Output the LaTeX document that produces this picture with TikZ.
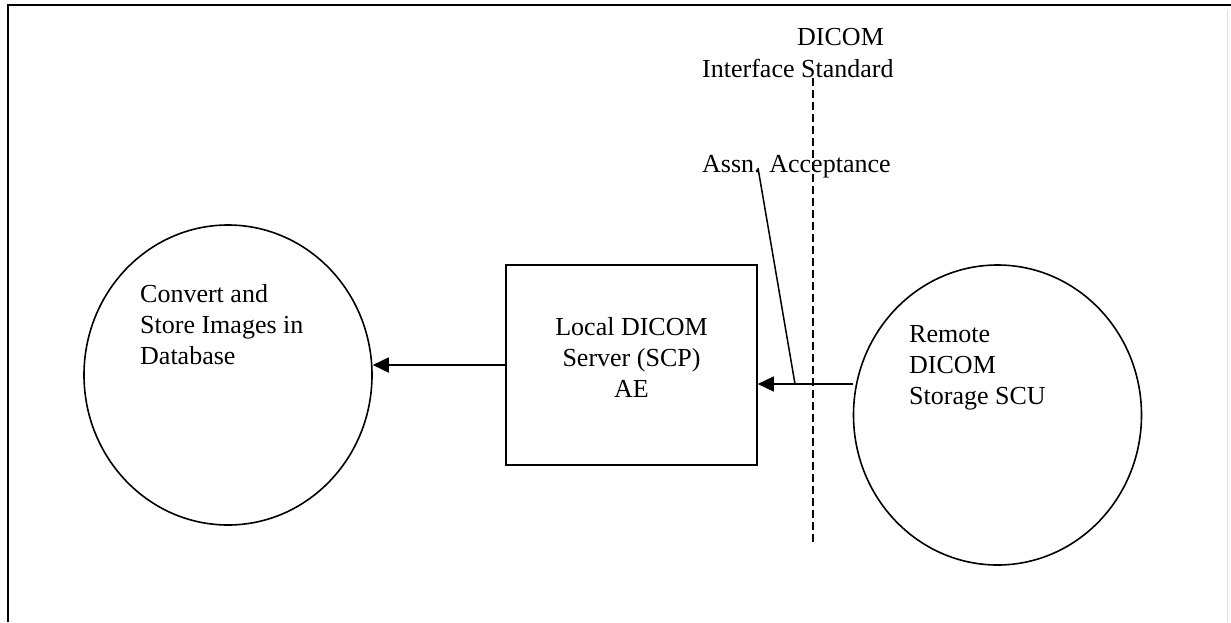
\documentclass[tikz,border=0pt]{standalone}
\usepackage{fontspec}
\setmainfont{Liberation Serif}
\usetikzlibrary{arrows.meta,calc,shapes.geometric}
\tikzset{
  lbl/.style={inner sep=0pt, font=\fontsize{26}{31}\selectfont},
  outline/.style={draw=black, line width=1.6pt},
  bubble/.style={outline, ellipse, minimum width=288pt, minimum height=300pt, inner sep=0pt},
  arr/.style={draw=black, line width=1.6pt, -{Triangle[length=16pt,width=15pt]}},
  boundary/.style={draw=black, line width=1.5pt, dash pattern=on 8pt off 4pt},
  leader/.style={draw=black, line width=1.5pt},
}
\begin{document}
\begin{tikzpicture}[x=1pt,y=-1pt]
\useasboundingbox (0,0) rectangle (1231,622);
\fill[white] (0,0) rectangle (1231,622);

% page frame
\draw[line width=2pt] (8,622) -- (8,5) -- (1231,5);
\draw[black!12, line width=1pt] (1227,10) -- (1227,622);

% the three processes
\node[bubble] (lc) at (228,375) {};
\node[outline, rectangle, minimum width=251pt, minimum height=200pt, inner sep=0pt] (box) at (631.5,365) {};
\node[bubble] (rc) at (997.5,415) {};

% texts (base anchor sits on the last line)
\node[lbl, anchor=base west, align=left] (lctext) at (140,364) {Convert and\\Store Images in\\Database};
\node[lbl, anchor=base, align=center] (boxtext) at (631.5,397) {Local DICOM\\Server (SCP)\\AE};
\node[lbl, anchor=base west, align=left] (rctext) at (909,404) {Remote\\DICOM\\Storage SCU};

\node[lbl, anchor=base west] (std1) at (797,45) {DICOM};
\node[lbl, anchor=base west] (std2) at (702,77) {Interface Standard};
\node[lbl, anchor=base west] (assn) at (702,172) {Assn. Acceptance};

% interface boundary
\coordinate (bt) at (813,78);
\coordinate (bb) at (813,542);
\draw[boundary] (bt) -- (bb);

% messages
\draw[arr] (box.west) -- (box.west -| lc.east);
\coordinate (rin) at (853,384);
\draw[arr] (rin) -- (rin -| box.east);

% association leader
\coordinate (lt) at (758,168);
\coordinate (lb) at (795,384);
\draw[leader] (lt) -- (lb);
\end{tikzpicture}
\end{document}
